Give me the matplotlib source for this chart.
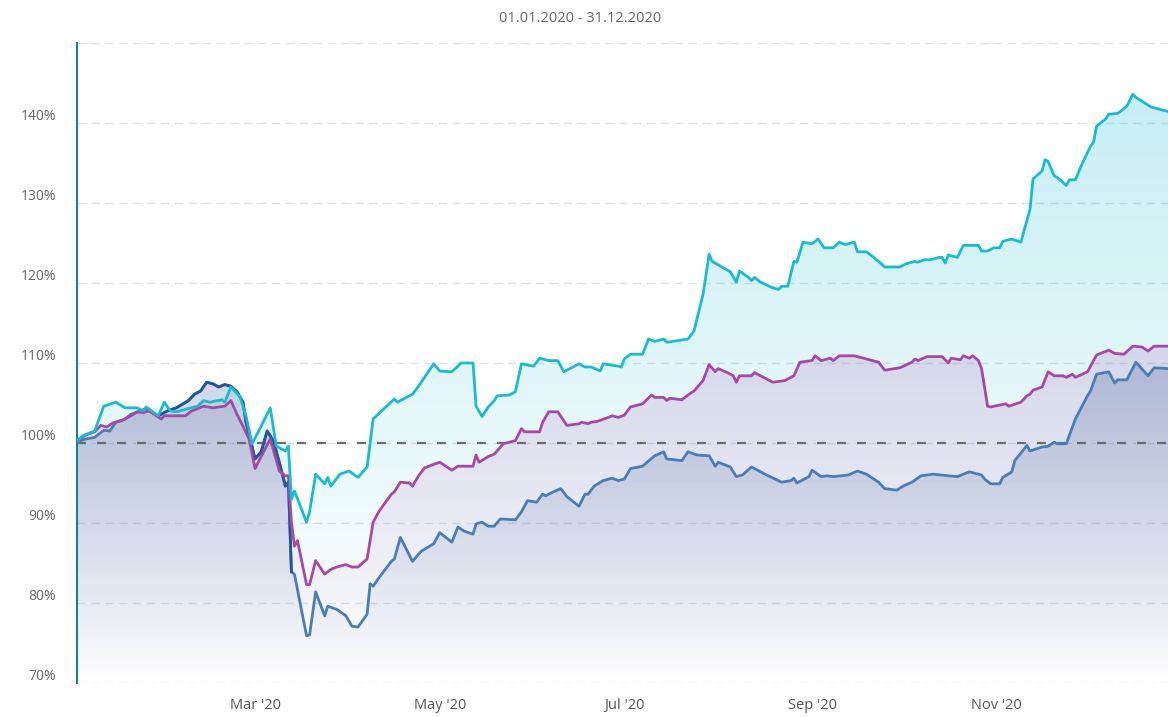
import numpy as np
import pandas as pd
import matplotlib
matplotlib.use('Agg')
import matplotlib.pyplot as plt
import matplotlib.dates as mdates
import matplotlib.transforms as mtransforms

plt.rcParams['font.family'] = ['Open Sans', 'DejaVu Sans']

# Zeitraum / Achsen
title = '01.01.2020 - 31.12.2020'
start = pd.Timestamp('2020-01-01')
y_ticks = [70, 80, 90, 100, 110, 120, 130, 140, 150]
y_labels = ['70%', '80%', '90%', '100%', '110%', '120%', '130%', '140%', '']
x_ticks = ['2020-03-01', '2020-05-01', '2020-07-01', '2020-09-01', '2020-11-01']

# Werte (Tage seit 01.01.2020, Indexwert in %)
cyan_days = [1, 3, 7, 10, 14, 17, 21, 23, 24, 28,
             30, 32, 34, 38, 41, 43, 45, 49, 50, 52,
             55, 57, 59, 62, 65, 67, 70, 71, 72, 73,
             77, 78, 80, 83, 84, 85, 88, 91, 94, 97,
             99, 106, 107, 112, 114, 119, 121, 125, 127, 128,
             132, 133, 135, 137, 139, 140, 144, 146, 148, 152,
             154, 157, 160, 162, 167, 169, 171, 174, 175, 180,
             181, 182, 184, 188, 190, 192, 195, 196, 198, 203,
             205, 208, 210, 211, 217, 219, 220, 223, 224, 225,
             227, 231, 233, 234, 236, 238, 239, 241, 244, 246,
             248, 251, 253, 255, 258, 259, 262, 266, 268, 273,
             275, 278, 279, 281, 283, 286, 287, 288, 289, 292,
             294, 299, 300, 302, 304, 306, 307, 310, 313, 316,
             317, 320, 321, 322, 324, 325, 328, 329, 331, 333,
             336, 337, 338, 340, 341, 342, 345, 348, 350, 351,
             356, 357, 362]
cyan_vals = [100.2, 100.9, 101.5, 104.6, 105.1, 104.4, 104.4, 104.0, 104.5, 103.4,
             105.1, 104.0, 103.9, 104.3, 104.6, 105.3, 105.1, 105.4, 105.1, 107.0,
             105.8, 103.4, 99.9, 102.1, 104.4, 99.6, 99.0, 99.6, 93.0, 94.0,
             90.1, 91.4, 96.1, 94.9, 95.7, 94.6, 96.1, 96.5, 95.7, 97.0,
             103.0, 105.5, 105.1, 106.1, 107.1, 109.9, 109.0, 108.9, 109.6, 110.0,
             110.0, 104.6, 103.3, 104.5, 105.3, 105.9, 106.0, 106.4, 109.9, 109.6,
             110.6, 110.3, 110.3, 108.9, 109.9, 109.5, 109.5, 109.0, 109.9, 109.6,
             109.5, 110.5, 111.1, 111.1, 113.0, 112.7, 113.0, 112.6, 112.7, 113.0,
             114.0, 118.6, 123.6, 122.7, 121.4, 120.1, 121.5, 120.7, 120.3, 120.7,
             120.1, 119.4, 119.2, 119.6, 119.6, 122.7, 122.6, 125.1, 124.9, 125.5,
             124.4, 124.4, 125.1, 124.8, 125.1, 123.9, 123.9, 122.7, 122.0, 122.0,
             122.4, 122.7, 122.6, 122.9, 122.9, 123.2, 123.2, 122.5, 123.5, 123.2,
             124.7, 124.7, 124.0, 124.0, 124.4, 124.4, 125.2, 125.5, 125.1, 129.2,
             133.0, 134.0, 135.4, 135.2, 133.4, 133.2, 132.2, 132.9, 132.9, 134.7,
             137.1, 137.6, 139.6, 140.2, 140.5, 141.1, 141.2, 142.1, 143.6, 143.2,
             142.0, 141.9, 141.4]

magenta_days = [1, 4, 7, 9, 11, 13, 16, 19, 21, 23,
                25, 29, 30, 37, 39, 43, 46, 50, 52, 54,
                56, 58, 60, 62, 65, 67, 68, 70, 71, 72,
                73, 74, 77, 78, 80, 83, 85, 87, 90, 92,
                94, 97, 99, 101, 105, 106, 108, 111, 112, 114,
                116, 121, 125, 127, 132, 133, 134, 137, 139, 142,
                146, 148, 149, 154, 155, 157, 160, 163, 167, 168,
                170, 171, 173, 176, 178, 180, 182, 184, 188, 191,
                192, 195, 196, 197, 201, 203, 205, 208, 210, 212,
                213, 216, 218, 219, 220, 224, 225, 231, 235, 238,
                240, 244, 245, 247, 250, 251, 253, 258, 262, 266,
                268, 273, 277, 278, 279, 282, 287, 289, 290, 293,
                294, 296, 297, 299, 300, 302, 303, 308, 309, 313,
                315, 316, 317, 320, 322, 324, 327, 328, 330, 331,
                335, 338, 342, 344, 347, 350, 353, 355, 357, 362]
magenta_vals = [100.2, 101.0, 101.4, 102.2, 102.0, 102.5, 102.8, 103.4, 103.9, 103.8,
                104.0, 103.0, 103.4, 103.4, 104.0, 104.6, 104.4, 104.6, 105.3, 103.6,
                102.1, 100.5, 96.8, 98.3, 100.5, 97.8, 96.5, 95.9, 95.9, 90.1,
                87.1, 87.8, 82.3, 82.3, 85.3, 83.6, 84.2, 84.5, 84.8, 84.5,
                84.5, 85.5, 90.1, 91.5, 93.6, 93.9, 95.1, 95.0, 94.6, 95.9,
                96.9, 97.6, 96.6, 97.1, 97.1, 98.5, 97.6, 98.3, 98.6, 99.9,
                100.3, 101.8, 101.4, 101.4, 102.6, 103.9, 103.9, 102.2, 102.4, 102.6,
                102.4, 102.6, 102.7, 103.1, 103.4, 103.2, 103.5, 104.5, 104.9, 106.0,
                105.7, 105.7, 105.3, 105.6, 105.4, 106.0, 106.5, 107.8, 109.8, 108.9,
                109.3, 108.8, 108.4, 107.6, 108.4, 108.4, 108.8, 107.6, 107.8, 108.4,
                110.1, 110.3, 110.9, 110.3, 110.6, 110.3, 110.9, 110.9, 110.5, 110.1,
                109.1, 109.4, 110.1, 110.5, 110.3, 110.8, 110.8, 110.0, 110.6, 110.4,
                110.9, 110.6, 110.9, 110.3, 109.3, 104.6, 104.5, 104.9, 104.6, 105.1,
                105.9, 106.1, 106.6, 107.0, 108.9, 108.4, 108.4, 108.2, 108.6, 108.2,
                108.9, 111.0, 111.6, 111.2, 111.1, 112.1, 112.0, 111.5, 112.1, 112.1]

blue_days = [1, 4, 7, 10, 12, 14, 17, 19, 22, 24,
             28, 31, 34, 38, 40, 42, 44, 46, 48, 50,
             52, 54, 56, 57, 60, 62, 64, 66, 68, 70,
             71, 72, 73, 77, 78, 80, 83, 84, 87, 90,
             92, 94, 97, 98, 99, 101, 105, 106, 108, 112,
             114, 115, 119, 121, 125, 127, 129, 132, 133, 135,
             137, 139, 141, 146, 148, 150, 153, 155, 156, 158,
             161, 163, 167, 169, 170, 172, 175, 178, 180, 182,
             184, 188, 192, 195, 196, 201, 203, 206, 210, 212,
             213, 217, 219, 221, 224, 229, 234, 237, 238, 239,
             243, 244, 247, 249, 251, 256, 259, 262, 266, 268,
             272, 274, 277, 280, 284, 289, 292, 296, 300, 301,
             303, 306, 307, 310, 311, 315, 316, 320, 322, 324,
             325, 328, 331, 335, 336, 338, 342, 344, 345, 348,
             351, 355, 357, 362]
blue_vals = [100.1, 100.5, 100.7, 101.6, 101.5, 102.6, 103.0, 103.6, 104.0, 104.3,
             103.4, 104.0, 104.4, 105.3, 106.1, 106.5, 107.6, 107.4, 107.0, 107.3,
             107.1, 106.4, 105.1, 102.6, 98.0, 98.9, 101.5, 100.3, 97.6, 94.6,
             95.1, 83.9, 83.6, 75.9, 76.0, 81.4, 78.4, 79.6, 79.2, 78.4,
             77.1, 77.0, 78.6, 82.4, 82.1, 83.2, 85.2, 85.5, 88.2, 85.2,
             86.1, 86.5, 87.4, 88.8, 87.6, 89.5, 89.0, 88.6, 89.9, 90.1,
             89.6, 89.6, 90.5, 90.4, 91.4, 92.8, 92.6, 93.6, 93.4, 93.8,
             94.3, 93.3, 92.1, 93.6, 93.6, 94.6, 95.3, 95.6, 95.3, 95.5,
             96.8, 97.1, 98.4, 98.9, 98.0, 97.8, 98.9, 98.5, 98.4, 97.1,
             97.6, 97.0, 95.8, 96.0, 97.0, 96.0, 95.1, 95.3, 95.6, 95.0,
             95.8, 96.6, 95.8, 95.9, 95.8, 96.0, 96.5, 96.1, 95.1, 94.3,
             94.1, 94.6, 95.1, 95.9, 96.1, 95.9, 95.8, 96.4, 96.0, 95.5,
             94.9, 94.9, 95.7, 96.4, 97.8, 99.7, 99.0, 99.5, 99.6, 100.1,
             99.9, 99.9, 103.0, 105.9, 106.5, 108.6, 108.9, 107.5, 107.9, 107.9,
             110.1, 108.4, 109.4, 109.3]


def to_x(days):
    td = pd.to_timedelta(np.asarray(days, dtype=float), unit='D')
    return mdates.date2num((start + td).to_pydatetime())


Y_MIN, Y_MAX = 70, 150


def gradient_area(ax, x, y, rgb, a_top, z):
    coll = ax.fill_between(x, y, Y_MIN, facecolor='none', edgecolor='none')
    path = coll.get_paths()[0]
    img = np.zeros((256, 1, 4))
    img[..., :3] = rgb
    img[:, 0, 3] = np.linspace(a_top, 0, 256)
    im = ax.imshow(img, aspect='auto', origin='upper', interpolation='bilinear',
                   extent=[x.min(), x.max(), Y_MIN, Y_MAX], zorder=z)
    im.set_clip_path(path, transform=ax.transData)


fig = plt.figure(figsize=(11.68, 7.17), dpi=100)
ax = fig.add_axes([77 / 1168, 1 - 683 / 717, 1 - 77 / 1168, (683 - 43) / 717])

xc = to_x(cyan_days)
xm = to_x(magenta_days)
xb = to_x(blue_days)
yc = np.array(cyan_vals)
ym = np.array(magenta_vals)
yb = np.array(blue_vals)

# Flächen mit Verlauf
gradient_area(ax, xc, yc, (0.10, 0.74, 0.82), 0.27, 1.0)
gradient_area(ax, xm, ym, (0.64, 0.30, 0.64), 0.34, 1.1)
gradient_area(ax, xb, yb, (0.22, 0.35, 0.60), 0.50, 1.2)

# 100%-Linie
ax.axhline(100, color='#6b6b6b', lw=1.6, dashes=(4, 5), zorder=4)

# Linien
lw = 2.0
ax.plot(xb, yb, color='#4b7db4', lw=lw, zorder=5, solid_joinstyle='round')
navy = (np.array(blue_days) >= 28) & (np.array(blue_days) <= 72)
ax.plot(xb[navy], yb[navy], color='#24549c', lw=lw, zorder=5.5, solid_joinstyle='round')
ax.plot(xm, ym, color='#a748a6', lw=lw, zorder=6, solid_joinstyle='round')
ax.plot(xc, yc, color='#17bcd1', lw=lw, zorder=7, solid_joinstyle='round')

ax.set_xlim(to_x([1.16])[0], to_x([361.6])[0])
ax.set_ylim(Y_MIN, Y_MAX)

# Achsen / Gitter
ax.set_yticks(y_ticks)
ax.set_yticklabels(y_labels)
ax.yaxis.grid(True, color='#dde2ec', lw=1.0, dashes=(6, 4), zorder=0)
ax.set_axisbelow(True)
ax.set_xticks(to_x([(pd.Timestamp(d) - start).days for d in x_ticks]))
ax.xaxis.set_major_formatter(mdates.DateFormatter("%b '%y"))
ax.tick_params(axis='y', length=0, pad=15, labelsize=10, labelcolor='#666666')
ax.tick_params(axis='x', length=0, pad=11, labelsize=10.5, labelcolor='#555555')

offset = mtransforms.ScaledTranslation(0, 0.08, fig.dpi_scale_trans)
for lbl in ax.get_yticklabels():
    lbl.set_transform(lbl.get_transform() + offset)

for s in ['top', 'right', 'bottom']:
    ax.spines[s].set_visible(False)
ax.spines['left'].set_color('#1c7f8f')
ax.spines['left'].set_linewidth(1.5)

fig.text(580 / 1168, 1 - 18 / 717, title, ha='center', va='center',
         color='#666666', fontsize=10.5)

plt.savefig('out.png', dpi=100)
